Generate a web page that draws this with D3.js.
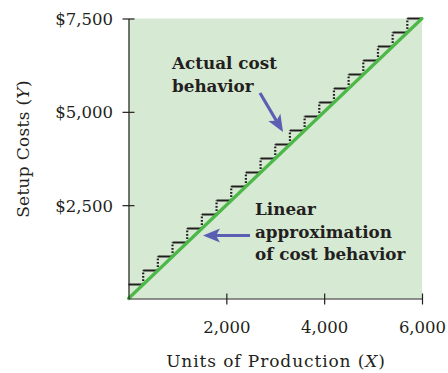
<!DOCTYPE html>
<html>
<head>
<meta charset="utf-8">
<script src="https://cdn.jsdelivr.net/npm/d3@7"></script>
<style>
  html, body { margin: 0; padding: 0; background: #fff; }
  svg { display: block; }
  text { font-family: "DejaVu Serif", serif; fill: #231f20; }
</style>
</head>
<body>
<svg id="chart" width="448" height="373"></svg>
<script>
// Units of production where each fixed-cost step ends, and the setup cost on that step
const stepUnits = [300, 600, 900, 1200, 1500, 1800, 2100, 2400, 2700, 3000,
                   3300, 3600, 3900, 4200, 4500, 4800, 5100, 5400, 5700, 6000];
const stepCosts = [375, 750, 1125, 1500, 1875, 2250, 2625, 3000, 3375, 3750,
                   4125, 4500, 4875, 5250, 5625, 6000, 6375, 6750, 7125, 7500];
// Linear approximation end points
const lineUnits = [0, 6000];
const lineCosts = [0, 7500];
// Axis ticks
const xTicks = [2000, 4000, 6000];
const yTicks = [2500, 5000, 7500];

const svg = d3.select("#chart");
const x = d3.scaleLinear().domain([0, 6000]).range([128.5, 422]);
const y = d3.scaleLinear().domain([0, 7500]).range([298.5, 18.5]);
const ink = "#231f20";

// Shaded plot region
svg.append("rect")
  .attr("x", x(0)).attr("y", y(7500))
  .attr("width", x(6000) - x(0)).attr("height", y(0) - y(7500))
  .attr("fill", "#d6e9d3");

// Staircase of actual costs: solid treads, dotted risers
const steps = svg.append("g");
stepUnits.forEach((u, i) => {
  const start = i === 0 ? 0 : stepUnits[i - 1];
  steps.append("line")
    .attr("x1", x(start)).attr("x2", x(u))
    .attr("y1", y(stepCosts[i])).attr("y2", y(stepCosts[i]))
    .attr("stroke", ink).attr("stroke-width", 2);
  if (i > 0) {
    steps.append("line")
      .attr("x1", x(start)).attr("x2", x(start))
      .attr("y1", y(stepCosts[i - 1])).attr("y2", y(stepCosts[i]))
      .attr("stroke", ink).attr("stroke-width", 2.2)
      .attr("stroke-dasharray", "1.8,1.6");
  }
});

// Linear approximation
svg.append("path")
  .datum(lineUnits.map((u, i) => [u, lineCosts[i]]))
  .attr("d", d3.line().x(d => x(d[0])).y(d => y(d[1])))
  .attr("fill", "none")
  .attr("stroke", "#4cb848")
  .attr("stroke-width", 3.2)
  .attr("stroke-linecap", "round");

// Axes
const xAxis = svg.append("g").attr("transform", `translate(0,${y(0)})`)
  .call(d3.axisBottom(x).tickValues(xTicks).tickSizeOuter(0)
        .tickFormat(d3.format(",")));
xAxis.selectAll(".tick line").attr("y1", -5).attr("y2", 6);
const yAxis = svg.append("g").attr("transform", `translate(${x(0)},0)`)
  .call(d3.axisLeft(y).tickValues(yTicks).tickSizeOuter(0)
        .tickFormat(d => "$" + d3.format(",")(d)));
yAxis.selectAll(".tick line").attr("x1", -6).attr("x2", 6);
[xAxis, yAxis].forEach(g => {
  g.attr("font-family", null).attr("font-size", null);
  g.select(".domain").attr("stroke", ink).attr("stroke-width", 1.2);
  g.selectAll(".tick line").attr("stroke", ink).attr("stroke-width", 1.2);
  g.selectAll(".tick text").attr("font-size", 16.5).attr("fill", ink);
});
xAxis.selectAll(".tick text").attr("y", 34.5).attr("dy", 0);
yAxis.selectAll(".tick text").attr("x", -15.5).attr("dy", "0.36em");

// Axis titles
const xt = svg.append("text").attr("x", 276).attr("y", 367)
  .attr("text-anchor", "middle").attr("font-size", 17).attr("letter-spacing", 0.9);
xt.append("tspan").text("Units of Production (");
xt.append("tspan").attr("font-style", "italic").text("X");
xt.append("tspan").text(")");

const yt = svg.append("text")
  .attr("transform", "translate(29,149) rotate(-90)")
  .attr("text-anchor", "middle").attr("font-size", 17).attr("letter-spacing", 0.3);
yt.append("tspan").text("Setup Costs (");
yt.append("tspan").attr("font-style", "italic").text("Y");
yt.append("tspan").text(")");

// Annotation arrows
const arrowColor = "#5a5fb4";
function arrow(x1, y1, x2, y2) {
  const ang = Math.atan2(y2 - y1, x2 - x1);
  const len = 17, half = 7, notch = 4;
  const bx = x2 - len * Math.cos(ang), by = y2 - len * Math.sin(ang);
  const nx = -Math.sin(ang), ny = Math.cos(ang);
  const ix = x2 - (len - notch) * Math.cos(ang), iy = y2 - (len - notch) * Math.sin(ang);
  svg.append("line")
    .attr("x1", x1).attr("y1", y1).attr("x2", ix).attr("y2", iy)
    .attr("stroke", arrowColor).attr("stroke-width", 3.2);
  svg.append("path")
    .attr("d", `M${x2},${y2} L${bx + nx * half},${by + ny * half} L${ix},${iy} L${bx - nx * half},${by - ny * half} Z`)
    .attr("fill", arrowColor);
}
arrow(260, 93, 283, 132);
arrow(250, 235.5, 203, 235.5);

// Annotation labels
const note1 = svg.append("text").attr("font-size", 16.8).attr("font-weight", "bold");
note1.append("tspan").attr("x", 172).attr("y", 69).text("Actual cost");
note1.append("tspan").attr("x", 172).attr("y", 91.5).text("behavior");

const note2 = svg.append("text").attr("font-size", 16.8).attr("font-weight", "bold");
note2.append("tspan").attr("x", 255).attr("y", 215.3).text("Linear");
note2.append("tspan").attr("x", 255).attr("y", 237.5).text("approximation");
note2.append("tspan").attr("x", 255).attr("y", 259.7).text("of cost behavior");
</script>
</body>
</html>
